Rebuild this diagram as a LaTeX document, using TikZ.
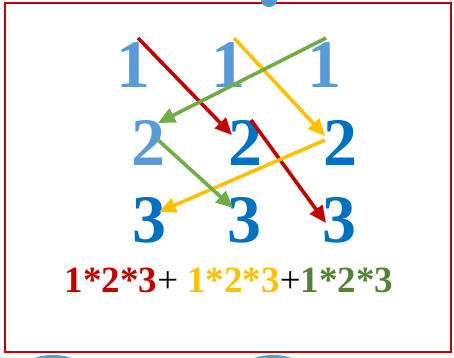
\documentclass[tikz,border=0pt]{standalone}
\usepackage{fontspec}
\setmainfont{Liberation Serif}
\usepackage{xcolor}
\usetikzlibrary{arrows.meta}

\definecolor{lightblue}{HTML}{5B9BD5}
\definecolor{darkblue}{HTML}{0070C0}
\definecolor{myred}{HTML}{C00000}
\definecolor{myyellow}{HTML}{FFC000}
\definecolor{mygreen}{HTML}{70AD47}
\definecolor{darkgreen}{HTML}{548235}

\begin{document}
\begin{tikzpicture}[
    x=1pt, y=1pt,
    digit/.style={
        inner sep=0pt,
        font=\fontsize{68}{68}\selectfont\bfseries
    },
    arrow/.style={-{Triangle[length=17pt,width=15pt]}, line width=3.6pt}
]
\useasboundingbox (0,0) rectangle (454,357);
\clip (0,0) rectangle (454,357);

% frame
\draw[myred, line width=2.4pt] (5,5) rectangle (451,354);

% cut-off blue shapes at the edges
\fill[lightblue!90!darkblue] (269,357) ellipse (8pt and 7pt);
\fill[lightblue] (53,-8) ellipse (26pt and 10pt);
\fill[lightblue] (273,-8) ellipse (26pt and 10pt);

% first row
\node[digit, text=lightblue] (oneA) at (133,292) {1};
\node[digit, text=lightblue] (oneB) at (228,292) {1};
\node[digit, text=lightblue] (oneC) at (324,292) {1};

% second row
\node[digit, text=lightblue] (twoA) at (148,214) {2};
\node[digit, text=darkblue] (twoB) at (245,214) {2};
\node[digit, text=darkblue] (twoC) at (340,214) {2};

% third row
\node[digit, text=darkblue] (threeA) at (149,137) {3};
\node[digit, text=darkblue] (threeB) at (244,137) {3};
\node[digit, text=darkblue] (threeC) at (339,137) {3};

% the products
\node[inner sep=0pt, font=\fontsize{37}{37}\selectfont\bfseries] (sum) at (229,77)
{\textcolor{myred}{1*2*3}\mdseries+ \bfseries\textcolor{myyellow}{1*2*3}\mdseries+\bfseries\textcolor{darkgreen}{1*2*3}};

\draw[arrow, myred] ([shift={(5,27)}]oneA.center) -- ([shift={(-13,8)}]twoB.center);
\draw[arrow, myyellow] ([shift={(6,27)}]oneB.center) -- ([shift={(-15,7)}]twoC.center);
\draw[arrow, mygreen] ([shift={(2,27)}]oneC.center) -- ([shift={(10,20)}]twoA.center);
\draw[arrow, myred] ([shift={(6,23)}]twoB.center) -- ([shift={(-13,-3)}]threeC.center);
\draw[arrow, myyellow] ([shift={(-15,3)}]twoC.center) -- ([shift={(10,8)}]threeA.center);
\draw[arrow, mygreen] ([shift={(10,3)}]twoA.center) -- ([shift={(-11,12)}]threeB.center);

\end{tikzpicture}
\end{document}
